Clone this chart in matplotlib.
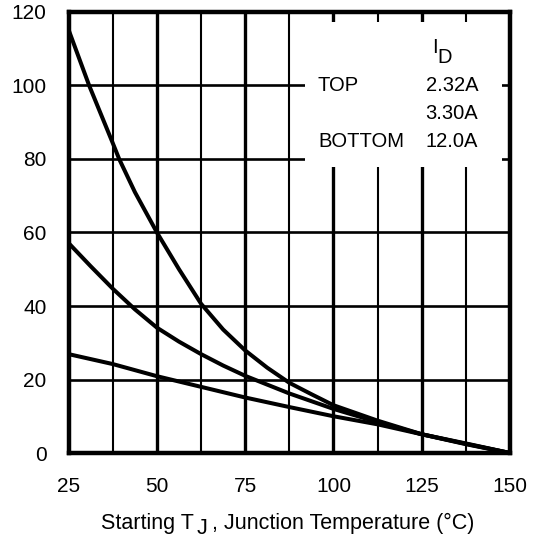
import matplotlib.pyplot as plt
from matplotlib.patches import Rectangle

plt.rcParams['font.family'] = ['Liberation Sans', 'DejaVu Sans']

# ---------------- DATA ----------------
tj_top = [25, 30.8, 37.5, 39.3, 43.75, 50, 56.25, 62.5, 68.75, 75, 81.25, 87.5, 93.75, 100, 112.5, 125, 137.5, 150]
eas_top = [115.1, 100, 84.3, 80, 71, 60, 50, 40.6, 33.6, 27.9, 23.2, 19.1, 16, 13, 8.8, 5.1, 2.6, 0]

tj_mid = [25, 31.25, 37.5, 43.75, 50, 56.25, 62.5, 68.75, 75, 87.5, 100, 112.5, 125, 137.5, 150]
eas_mid = [57.1, 50.8, 44.7, 39.1, 34.1, 30.3, 26.9, 23.8, 21, 16.2, 12, 8.4, 5.1, 2.5, 0]

tj_bot = [25, 37.5, 50, 62.5, 75, 87.5, 100, 112.5, 125, 137.5, 150]
eas_bot = [26.9, 24.2, 20.9, 18, 15.1, 12.5, 10, 7.8, 5.1, 2.4, 0]

x_ticks = [25, 50, 75, 100, 125, 150]
x_minor = [37.5, 62.5, 87.5, 112.5, 137.5]
y_ticks = [0, 20, 40, 60, 80, 100, 120]

legend_names = ['TOP', '', 'BOTTOM']
legend_vals = ['2.32A', '3.30A', '12.0A']

# ---------------- PLOT ----------------
fig = plt.figure(figsize=(5.34, 5.40), dpi=100)
ax = fig.add_axes([0.1286, 0.1611, 0.8265, 0.8167])

ax.set_xlim(25, 150)
ax.set_ylim(0, 120)

# grid: the labelled verticals are heavier than the in-between ones
for x in x_ticks[1:-1]:
    ax.axvline(x, color='black', lw=2.4, zorder=1)
for x in x_minor:
    ax.axvline(x, color='black', lw=1.5, zorder=1)
for y in y_ticks[1:-1]:
    ax.axhline(y, color='black', lw=1.9, zorder=1)

# white box behind the legend text (grid stubs stay visible at the edges)
ax.add_patch(Rectangle((92.0, 77.9), 55.6, 39.5, facecolor='white',
                       edgecolor='none', zorder=2))

ax.plot(tj_top, eas_top, color='black', lw=2.9, zorder=3)
ax.plot(tj_mid, eas_mid, color='black', lw=2.9, zorder=3)
ax.plot(tj_bot, eas_bot, color='black', lw=2.9, zorder=3)

# I_D header, subscript drawn at full size and lowered
ax.text(127.9, 108.8, 'I', fontsize=14.5, ha='left', va='baseline', zorder=4)
ax.text(129.3, 106.1, 'D', fontsize=14.5, ha='left', va='baseline', zorder=4)
row_y = [98.5, 90.8, 83.2]
for name, val, yy in zip(legend_names, legend_vals, row_y):
    if name:
        ax.text(95.6, yy, name, fontsize=14.5, ha='left', va='baseline', zorder=4)
    ax.text(141.0, yy, val, fontsize=14.5, ha='right', va='baseline', zorder=4)

ax.set_xticks(x_ticks)
ax.set_yticks(y_ticks)
ax.tick_params(length=0, labelsize=15)
ax.tick_params(axis='x', pad=17)
ax.tick_params(axis='y', pad=16)

for s in ax.spines.values():
    s.set_linewidth(3.2)
    s.set_zorder(5)

# x label in pieces so the J subscript keeps full size
renderer = fig.canvas.get_renderer()
t1 = fig.text(100.7 / 534, 10.5 / 540, 'Starting T', fontsize=15.5, ha='left', va='baseline')
x1 = t1.get_window_extent(renderer).x1
t2 = fig.text((x1 + 3) / 534, 5.5 / 540, 'J', fontsize=15.5, ha='left', va='baseline')
x2 = t2.get_window_extent(renderer).x1
fig.text((x2 + 5) / 534, 10.5 / 540, ', Junction Temperature (°C)', fontsize=15.5, ha='left', va='baseline')

fig.savefig('out.png', dpi=100)
